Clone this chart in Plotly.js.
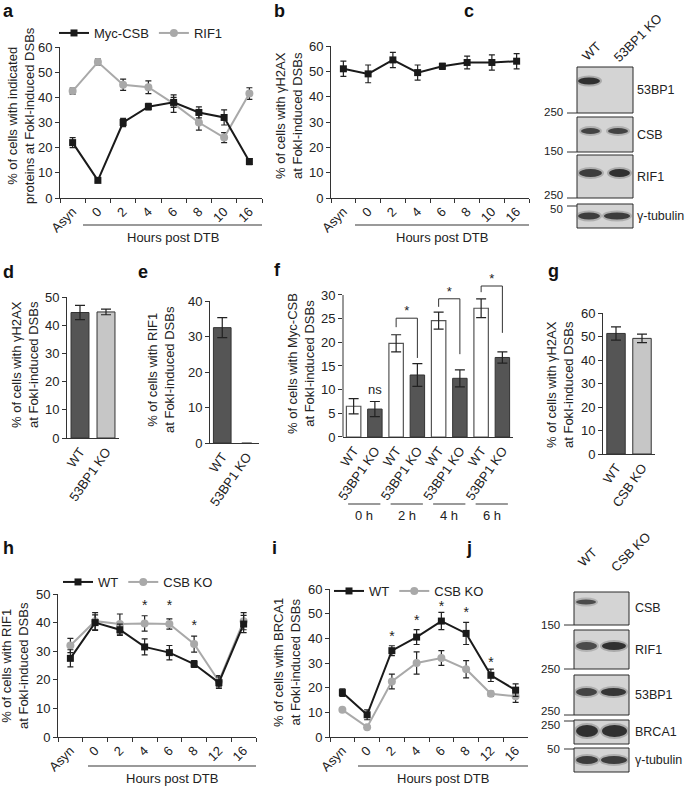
<!DOCTYPE html>
<html><head><meta charset="utf-8">
<script src="https://cdn.plot.ly/plotly-3.0.1.min.js"></script>
<style>html,body{margin:0;padding:0;background:#fff}#chart{width:685px;height:786px}</style>
</head><body><div id="chart"></div>
<script>
const W=685,H=786;
const FONT='"Liberation Sans", Arial, sans-serif';
const px=v=>v/W, py=v=>1-v/H;

// ---------------- data ----------------
// a
const timeA=['Asyn','0','2','4','6','8','10','16'];
const mycCSB=[22,7,30,36.3,38,34,32,14.5];
const mycCSBErr=[2,0.6,1.6,1.3,2,2.2,3,1.2];
const rif1A=[42.5,54,45,44,37.5,30,24,41.5];
const rif1AErr=[1.2,1.2,2.2,2.5,3.5,3,2,2.3];
// b
const timeB=['Asyn','0','2','4','6','8','10','16'];
const h2axB=[51,49,54.5,49.5,52,53.5,53.5,54];
const h2axBErr=[3,3.5,3,3,1.2,2.5,3,3];
// d
const catsD=['WT','53BP1 KO'];
const h2axD=[44.5,44.7];
const h2axDErr=[2.5,1];
// e
const catsE=['WT','53BP1 KO'];
const rif1E=[32.5,0];
const rif1EErr=[2.8,null];
// f
const labelsF=['WT','53BP1 KO','WT','53BP1 KO','WT','53BP1 KO','WT','53BP1 KO'];
const groupsF=['0 h','2 h','4 h','6 h'];
const mycWTF=[6.5,19.8,24.6,27.2];
const mycWTFErr=[1.6,1.8,1.8,2];
const mycKOF=[5.9,13.1,12.4,16.8];
const mycKOFErr=[1.6,2.4,1.8,1.2];
const sigF=['ns','*','*','*'];
const sigYF=[9.7,25.1,29.2,31.9];
const bracketLeftF=[null,23.2,27.5,30.6];
const bracketRightF=[null,16.7,17.5,22];
// g
const catsG=['WT','CSB KO'];
const h2axG=[51.3,49.2];
const h2axGErr=[2.8,1.8];
// h
const timeH=['Asyn','0','2','4','6','8','12','16'];
const rif1WT=[27.5,40,37.5,31.5,29.5,25.5,19,39.5];
const rif1WTErr=[3,2.7,2,2.8,2.5,1.2,2,3];
const rif1KO=[32,40.5,39.5,39.7,39.5,32.5,19.5,40.5];
const rif1KOErr=[2.5,3,3.5,2.7,1.8,2.8,2,3];
const starYH=[null,null,null,45.5,45.5,38.5,null,null];
// i
const timeI=['Asyn','0','2','4','6','8','12','16'];
const brca1WT=[18,9,35,40.5,47,42,25,19];
const brca1WTErr=[1.5,2,2,3,3.5,4.5,2.5,2.5];
const brca1KO=[11,4,22.5,30,32,27.5,17.5,16.5];
const brca1KOErr=[0.5,0.5,3,4.5,3,3.5,1,2.5];
const starYI=[null,null,40.5,47,52.5,50,30,null];
// blots
const blotCLanes=['WT','53BP1 KO'];
const blotCRows=['53BP1','CSB','RIF1','γ-tubulin'];
const blotCMarkers=['250','150','250','50'];
const blotCBands=[[1,0],[0.85,0.85],[0.9,1],[0.9,0.9]];
const blotJLanes=['WT','CSB KO'];
const blotJRows=['CSB','RIF1','53BP1','BRCA1','γ-tubulin'];
const blotJMarkers=['150','250','250','250','50'];
const blotJBands=[[0.8,0],[0.8,1],[0.85,0.95],[1,1],[0.9,0.9]];

// ---------------- helpers ----------------
const BLACK='#1a1a1a', GREY='#a9a9a9', DARKBAR='#555555', LIGHTBAR='#c6c6c6';
const eb=(arr,w)=>({type:'data',array:arr,visible:true,color:'#222',thickness:1.2,width:w});
function lineTrace(x,y,err,xa,ya,name,black,legend,showlegend){
  return {type:'scatter',mode:'lines+markers',x,y,xaxis:xa,yaxis:ya,name,legend,showlegend,
    line:{color:black?BLACK:GREY,width:2},
    marker:{symbol:black?'square':'circle',size:black?7:8,color:black?BLACK:GREY},
    error_y:eb(err,3),hoverinfo:'skip'};
}
function starTrace(x,y,xa,ya){
  return {type:'scatter',mode:'text',x,y,text:y.map(v=>v==null?'':'*'),xaxis:xa,yaxis:ya,
    textposition:'middle center',textfont:{family:FONT,size:14,color:'#222'},showlegend:false,cliponaxis:false,hoverinfo:'skip'};
}
const AX={showgrid:false,zeroline:false,showline:true,linecolor:'#333',linewidth:1,
  tickfont:{family:FONT,size:13,color:'#222'},ticks:'outside',ticklen:4,tickcolor:'#333',tickwidth:1,fixedrange:true};
function yAx(top,bot,range,dtick,anchor,extra){
  return Object.assign({},AX,{domain:[py(bot),py(top)],range,dtick,tick0:0,anchor},extra||{});
}
function xCat(l,r,anchor,n,angle,tickson,extra){
  return Object.assign({},AX,{domain:[px(l),px(r)],anchor,type:'category',range:[-0.5,n-0.5],tickangle:angle,
    ticks:tickson?'outside':'',tickson:tickson?'boundaries':'labels'},extra||{});
}
const shapes=[], annotations=[];
function hline(x0,x1,y,color,width){shapes.push({type:'line',xref:'paper',yref:'paper',x0:px(x0),x1:px(x1),y0:py(y),y1:py(y),line:{color,width}});}
function rectPx(x0,y0,x1,y1,fill,lineColor,lw){shapes.push({type:'rect',xref:'paper',yref:'paper',x0:px(x0),x1:px(x1),y0:py(y1),y1:py(y0),fillcolor:fill,line:{color:lineColor||'rgba(0,0,0,0)',width:lw||0}});}
function ellPx(x0,y0,x1,y1,fill,op){shapes.push({type:'circle',xref:'paper',yref:'paper',x0:px(x0),x1:px(x1),y0:py(y1),y1:py(y0),fillcolor:fill,opacity:op,line:{width:0}});}
function text(x,y,t,opt){
  annotations.push(Object.assign({xref:'paper',yref:'paper',x:px(x),y:py(y),text:t,showarrow:false,
    xanchor:'center',yanchor:'middle',font:{family:FONT,size:13,color:'#222'}},opt||{}));
}
function ytitle(x,y,t){text(x,y,t,{textangle:-90});}
function letter(x,y,t){text(x,y,t,{font:{family:FONT,size:18,color:'#111',weight:'bold'},xanchor:'left'});}

// ---------------- panel geometry ----------------
const PA={l:60,r:262,t:47,b:198};
const PB={l:331,r:529,t:46,b:198};
const PD={l:67,r:119,t:297,b:438};
const PE={l:210,r:259,t:301,b:443};
const PF={l:343,r:513,b:437,pxPerUnit:142/30};
PF.t=PF.b-34*PF.pxPerUnit;
const PG={l:603,r:655,t:313,b:454};
const PH={l:58,r:256,t:594,b:737};
const PI={l:330,r:528,t:589,b:737};

// ---------------- traces ----------------
const traces=[];
traces.push(lineTrace(timeA,rif1A,rif1AErr,'x','y','RIF1',false,'legend',true));
traces.push(lineTrace(timeA,mycCSB,mycCSBErr,'x','y','Myc-CSB',true,'legend',true));
traces.push(lineTrace(timeB,h2axB,h2axBErr,'x2','y2','γH2AX',true,'legend',false));
traces.push({type:'bar',x:catsD,y:h2axD,xaxis:'x3',yaxis:'y3',width:0.69,showlegend:false,hoverinfo:'skip',
  marker:{color:[DARKBAR,LIGHTBAR],line:{color:'#333',width:1}},error_y:eb(h2axDErr,5)});
traces.push({type:'bar',x:catsE,y:rif1E,xaxis:'x4',yaxis:'y4',width:0.72,showlegend:false,hoverinfo:'skip',
  marker:{color:[DARKBAR,DARKBAR],line:{color:rif1E.map(v=>v>0?'#333':'rgba(0,0,0,0)'),width:1}},error_y:eb(rif1EErr,5)});
const fWTx=mycWTF.map((_,k)=>2*k), fKOx=mycKOF.map((_,k)=>2*k+1);
traces.push({type:'bar',x:fWTx,y:mycWTF,xaxis:'x5',yaxis:'y5',width:0.68,showlegend:false,hoverinfo:'skip',
  marker:{color:'#ffffff',line:{color:'#555',width:1.2}},error_y:eb(mycWTFErr,5)});
traces.push({type:'bar',x:fKOx,y:mycKOF,xaxis:'x5',yaxis:'y5',width:0.68,showlegend:false,hoverinfo:'skip',
  marker:{color:DARKBAR,line:{color:'#333',width:1}},error_y:eb(mycKOFErr,5)});
// brackets
for(let k=0;k<groupsF.length;k++){
  if(bracketLeftF[k]!=null){
    traces.push({type:'scatter',mode:'lines',x:[2*k,2*k,2*k+1,2*k+1],y:[bracketLeftF[k],sigYF[k],sigYF[k],bracketRightF[k]],
      xaxis:'x5',yaxis:'y5',line:{color:'#333',width:1},showlegend:false,hoverinfo:'skip'});
  }
}
traces.push({type:'scatter',mode:'text',x:sigF.map((s,k)=>s==='ns'?2*k+1:2*k+0.5),y:sigYF,text:sigF,
  textposition:sigF.map(s=>s==='ns'?'middle center':'top center'),xaxis:'x5',yaxis:'y5',cliponaxis:false,
  textfont:{family:FONT,size:13,color:'#222'},showlegend:false,hoverinfo:'skip'});
traces.push({type:'bar',x:catsG,y:h2axG,xaxis:'x6',yaxis:'y6',width:0.71,showlegend:false,hoverinfo:'skip',
  marker:{color:[DARKBAR,LIGHTBAR],line:{color:'#333',width:1}},error_y:eb(h2axGErr,5)});
traces.push(lineTrace(timeH,rif1KO,rif1KOErr,'x7','y7','CSB KO',false,'legend2',true));
traces.push(lineTrace(timeH,rif1WT,rif1WTErr,'x7','y7','WT',true,'legend2',true));
traces.push(starTrace(timeH,starYH,'x7','y7'));
traces.push(lineTrace(timeI,brca1KO,brca1KOErr,'x8','y8','CSB KO',false,'legend3',true));
traces.push(lineTrace(timeI,brca1WT,brca1WTErr,'x8','y8','WT',true,'legend3',true));
traces.push(starTrace(timeI,starYI,'x8','y8'));

// ---------------- decorations ----------------
const LINEGREY='#9a9a9a';
// Hours post DTB
[[83,262,225,237],[355,529,225,237],[88,256,766,778],[358,528,766,778]].forEach(([x0,x1,yl,yt])=>{
  hline(x0,x1,yl,LINEGREY,2);
  text((x0+x1)/2,yt,'Hours post DTB');
});
// f group labels
const fCat=(PF.r-PF.l)/8;
groupsF.forEach((g,k)=>{
  const cW=PF.l+(2*k+0.5)*fCat, cK=PF.l+(2*k+1.5)*fCat;
  hline(cW-5.5,cK+5.5,504,LINEGREY,2);
  text((cW+cK)/2,515,g);
});
// f y-axis line (0..30)
shapes.push({type:'line',xref:'paper',yref:'y5',x0:px(PF.l),x1:px(PF.l),y0:0,y1:30,line:{color:'#333',width:1}});

// y titles
ytitle(21,116,'% of cells with indicated<br>proteins at FokI-induced DSBs');
ytitle(289,116,'% of cells with γH2AX<br>at FokI-induced DSBs');
ytitle(25,365,'% of cells with γH2AX<br>at FokI-induced DSBs');
ytitle(161,370,'% of cells with RIF1<br>at FokI-induced DSBs');
ytitle(301,364,'% of cells with Myc-CSB<br>at FokI-induced DSBs');
ytitle(560,385,'% of cells with γH2AX<br>at FokI-induced DSBs');
ytitle(15,666,'% of cells with RIF1<br>at FokI-induced DSBs');
ytitle(287,663,'% of cells with BRCA1<br>at FokI-induced DSBs');

// letters
letter(1,11,'a'); letter(272,11,'b'); letter(462,11,'c');
letter(1,272,'d'); letter(136,272,'e'); letter(272,270,'f'); letter(546,271,'g');
letter(1,548,'h'); letter(270,548,'i'); letter(464,548,'j');

// blots
function blot(cfg){
  const {x0,x1,rows,lanes,rowNames,markers,markerY,markerTextY,bands,bandY,bandH,labelX,headers,laneX}=cfg;
  rows.forEach(([t,b],r)=>{
    rectPx(x0,t,x1,b,'#d4d4d4','#2a2a2a',1);
    text(labelX,(t+b)/2+cfg.labelDy[r],rowNames[r],{xanchor:'left',font:{family:FONT,size:12.5,color:'#222'}});
    lanes.forEach((ln,l)=>{
      const it=bands[r][l];
      if(it>0){
        const [lx0,lx1]=laneX[r][l];
        const yc=bandY[r], hh=bandH[r];
        ellPx(lx0-2,yc-hh/2-2,lx1+2,yc+hh/2+2,'#777',0.45*it);
        ellPx(lx0,yc-hh/2,lx1,yc+hh/2,'#222',0.9*it);
      }
    });
  });
  markers.forEach((m,k)=>{
    hline(cfg.tickX0,x0,markerY[k],'#333',1);
    text(cfg.tickX0-2,markerTextY[k],m,{xanchor:'right',font:{family:FONT,size:11.5,color:'#222'}});
  });
  headers.forEach(([hx,hy],k)=>text(hx,hy,lanes[k],{textangle:-45}));
}
blot({x0:577,x1:633,rows:[[67,113],[117,152],[155,198],[204,228]],lanes:blotCLanes,rowNames:blotCRows,
  markers:blotCMarkers,markerY:[113,152,198,206],markerTextY:[112,151,195,209],bands:blotCBands,
  bandY:[81,131,173,216],bandH:[7,6,8,7],labelX:635,labelDy:[0,0,0,0],tickX0:567,
  laneX:[[[578,600],[606,628]],[[581,600],[608,628]],[[579,602],[609,630]],[[578,600],[604,630]]],
  headers:[[591,51],[637,38]]});
blot({x0:574,x1:629,rows:[[592,625],[630,669],[675,715],[720,744],[748,772]],lanes:blotJLanes,rowNames:blotJRows,
  markers:blotJMarkers,markerY:[625,669,715,721,749],markerTextY:[625,669,711,725,749],bands:blotJBands,
  bandY:[602,646,692,731,760],bandH:[5,8,8,12,8],labelX:633,labelDy:[-1,0,0,0,0],tickX0:564,
  laneX:[[[576,596],[603,625]],[[576,597],[602,626]],[[576,597],[601,626]],[[576,598],[602,627]],[[576,598],[601,627]]],
  headers:[[587,557],[630,552]]});

// ---------------- layout ----------------
const legBase={orientation:'h',xanchor:'left',yanchor:'top',bgcolor:'rgba(0,0,0,0)',font:{family:FONT,size:13,color:'#222'},
  itemwidth:30,tracegroupgap:0,traceorder:'reversed'};
const layout={
  width:W,height:H,margin:{l:0,r:0,t:0,b:0},paper_bgcolor:'#fff',plot_bgcolor:'rgba(0,0,0,0)',
  barmode:'overlay',showlegend:true,hovermode:false,font:{family:FONT,size:13,color:'#222'},
  legend:Object.assign({},legBase,{x:px(54),y:py(18)}),
  legend2:Object.assign({},legBase,{x:px(58),y:py(567)}),
  legend3:Object.assign({},legBase,{x:px(329),y:py(576)}),
  xaxis:xCat(PA.l,PA.r,'y',8,-45,true),
  yaxis:yAx(PA.t,PA.b,[0,60],10,'x'),
  xaxis2:xCat(PB.l,PB.r,'y2',8,-45,true),
  yaxis2:yAx(PB.t,PB.b,[0,60],10,'x2'),
  xaxis3:xCat(PD.l,PD.r,'y3',2,-55,false),
  yaxis3:yAx(PD.t,PD.b,[0,50],10,'x3'),
  xaxis4:xCat(PE.l,PE.r,'y4',2,-55,false),
  yaxis4:yAx(PE.t,PE.b,[0,40],10,'x4'),
  xaxis5:Object.assign({},AX,{domain:[px(PF.l),px(PF.r)],anchor:'y5',range:[-0.5,7.5],tickmode:'array',
    tickvals:labelsF.map((_,k)=>k),ticktext:labelsF,tickangle:-55,ticks:''}),
  yaxis5:yAx(PF.t,PF.b,[0,34],5,'x5',{showline:false,tickmode:'array',tickvals:[0,5,10,15,20,25,30]}),
  xaxis6:xCat(PG.l,PG.r,'y6',2,-55,false),
  yaxis6:yAx(PG.t,PG.b,[0,60],10,'x6'),
  xaxis7:xCat(PH.l,PH.r,'y7',8,-45,true),
  yaxis7:yAx(PH.t,PH.b,[0,50],10,'x7'),
  xaxis8:xCat(PI.l,PI.r,'y8',8,-45,true),
  yaxis8:yAx(PI.t,PI.b,[0,60],10,'x8'),
  shapes,annotations
};
Plotly.newPlot('chart',traces,layout,{staticPlot:true,displayModeBar:false});
</script></body></html>
